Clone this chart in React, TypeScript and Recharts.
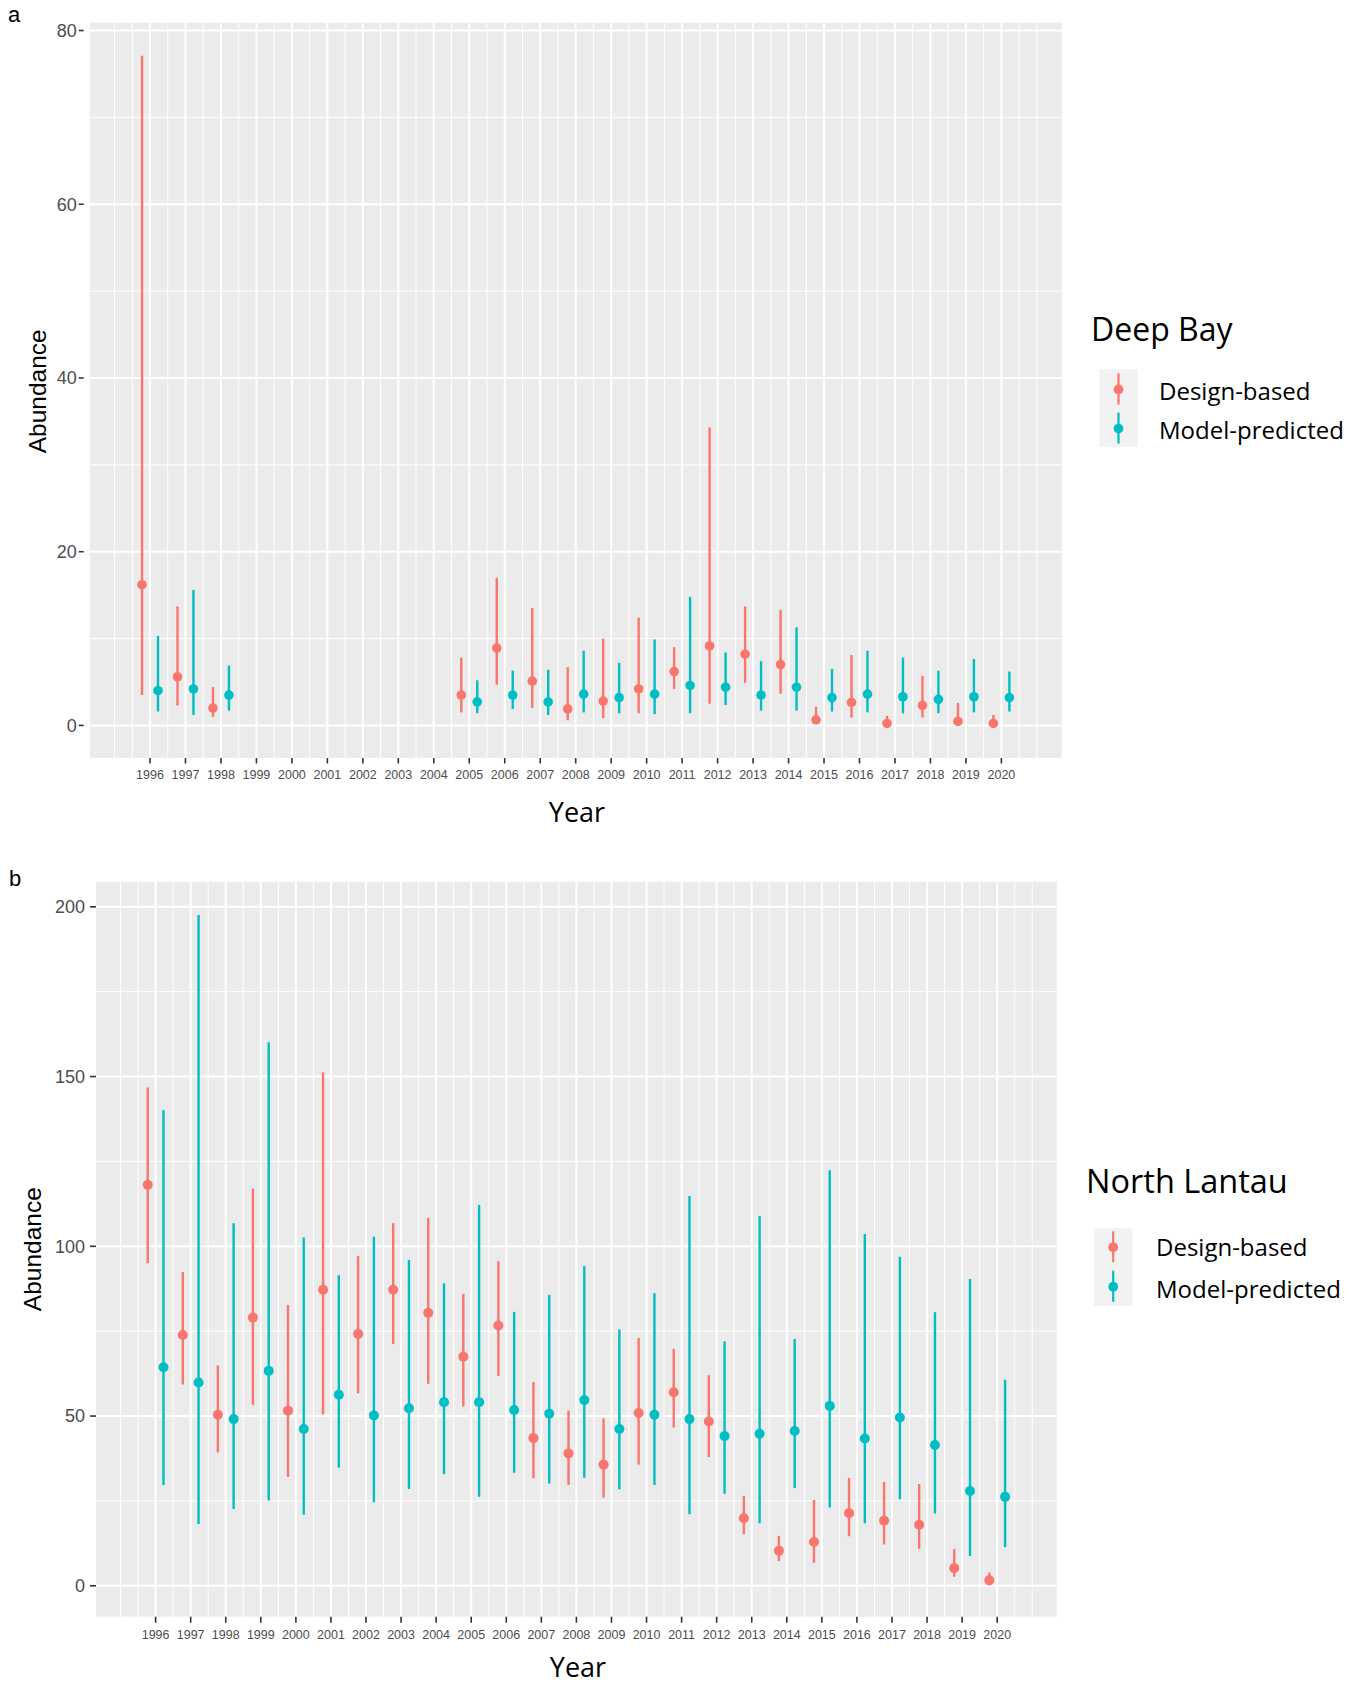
import React from 'react';
import { ScatterChart, Scatter, XAxis, YAxis, CartesianGrid, ErrorBar } from 'recharts';

// ---------- Data: panel a (Deep Bay) ----------
const yearsA = [1996, 1997, 1998, 2005, 2006, 2007, 2008, 2009, 2010, 2011, 2012, 2013, 2014, 2015, 2016, 2017, 2018, 2019, 2020];
const designA = [16.2, 5.6, 2.0, 3.5, 8.9, 5.1, 1.9, 2.8, 4.2, 6.2, 9.15, 8.2, 7.0, 0.65, 2.65, 0.23, 2.3, 0.46, 0.23];
const designALo = [3.5, 2.3, 1.0, 1.5, 4.7, 2.0, 0.6, 0.85, 1.4, 4.2, 2.5, 4.9, 3.65, 0.3, 0.9, 0.0, 0.9, 0.1, 0.0];
const designAHi = [77.1, 13.7, 4.4, 7.8, 17.0, 13.5, 6.7, 10.0, 12.4, 9.0, 34.3, 13.7, 13.3, 2.15, 8.1, 1.1, 5.7, 2.6, 1.2];
const modelA = [4.0, 4.2, 3.5, 2.7, 3.5, 2.7, 3.6, 3.2, 3.6, 4.6, 4.4, 3.5, 4.4, 3.2, 3.6, 3.3, 3.0, 3.3, 3.2];
const modelALo = [1.6, 1.2, 1.7, 1.4, 1.9, 1.2, 1.5, 1.4, 1.3, 1.4, 2.35, 1.7, 1.7, 1.6, 1.5, 1.4, 1.4, 1.5, 1.6];
const modelAHi = [10.3, 15.6, 6.9, 5.2, 6.3, 6.4, 8.6, 7.2, 9.9, 14.8, 8.4, 7.4, 11.3, 6.5, 8.6, 7.8, 6.3, 7.65, 6.2];

// ---------- Data: panel b (North Lantau) ----------
const yearsB = [1996, 1997, 1998, 1999, 2000, 2001, 2002, 2003, 2004, 2005, 2006, 2007, 2008, 2009, 2010, 2011, 2012, 2013, 2014, 2015, 2016, 2017, 2018, 2019, 2020];
const designB = [118.1, 73.9, 50.4, 79.0, 51.6, 87.2, 74.2, 87.2, 80.4, 67.5, 76.7, 43.5, 39.0, 35.7, 50.9, 57.0, 48.4, 19.9, 10.3, 12.9, 21.4, 19.2, 18.0, 5.2, 1.6];
const designBLo = [95.0, 59.3, 39.3, 53.3, 32.1, 50.5, 56.7, 71.2, 59.5, 52.8, 61.8, 31.7, 29.7, 26.0, 35.7, 46.6, 37.9, 15.2, 7.3, 6.8, 14.6, 12.2, 10.9, 2.7, 0.15];
const designBHi = [146.8, 92.4, 64.9, 117.0, 82.7, 151.3, 97.2, 106.8, 108.4, 86.0, 95.6, 60.0, 51.6, 49.3, 73.0, 69.8, 62.0, 26.5, 14.7, 25.3, 31.8, 30.6, 30.0, 10.8, 3.9];
const modelB = [64.4, 59.9, 49.1, 63.3, 46.2, 56.3, 50.2, 52.3, 54.1, 54.1, 51.8, 50.7, 54.7, 46.2, 50.4, 49.1, 44.1, 44.8, 45.6, 53.0, 43.4, 49.6, 41.5, 27.9, 26.2];
const modelBLo = [29.7, 18.2, 22.6, 25.1, 20.9, 34.8, 24.6, 28.5, 32.9, 26.2, 33.3, 30.1, 31.8, 28.4, 29.7, 21.1, 27.1, 18.4, 28.8, 23.1, 18.4, 25.5, 21.3, 8.8, 11.4];
const modelBHi = [140.1, 197.6, 106.8, 160.1, 102.6, 91.5, 102.8, 96.0, 89.1, 112.2, 80.7, 85.7, 94.2, 75.5, 86.2, 114.8, 72.0, 108.9, 72.7, 122.4, 103.6, 96.9, 80.6, 90.4, 60.7];

// ---------- Axis ticks ----------
const xTicks = [1996, 1997, 1998, 1999, 2000, 2001, 2002, 2003, 2004, 2005, 2006, 2007, 2008, 2009, 2010, 2011, 2012, 2013, 2014, 2015, 2016, 2017, 2018, 2019, 2020];
const yTicksA = [0, 20, 40, 60, 80];
const yMinorA = [10, 30, 50, 70];
const yTicksB = [0, 50, 100, 150, 200];
const yMinorB = [25, 75, 125, 175];

const xMinor: number[] = [];
for (let v = 1995; v <= 2021; v += 0.5) {
  if (!(Number.isInteger(v) && v >= 1996 && v <= 2020)) xMinor.push(v);
}

const DODGE = 0.225;
const RED = '#F8766D';
const TEAL = '#00BFC4';

function rows(years: number[], mid: number[], lo: number[], hi: number[], shift: number) {
  return years.map((yr, i) => ({ x: yr + shift, y: mid[i], err: [mid[i] - lo[i], hi[i] - mid[i]] }));
}

const dataA1 = rows(yearsA, designA, designALo, designAHi, -DODGE);
const dataA2 = rows(yearsA, modelA, modelALo, modelAHi, DODGE);
const dataB1 = rows(yearsB, designB, designBLo, designBHi, -DODGE);
const dataB2 = rows(yearsB, modelB, modelBLo, modelBHi, DODGE);

const TICK_FONT = 'Liberation Sans, Arial, Helvetica, sans-serif';
const TITLE_FONT = '"Open Sans", "Noto Sans", sans-serif';

const dot = (color: string, r: number) => (p: any) =>
  p.cx == null || p.cy == null ? <g /> : <circle cx={p.cx} cy={p.cy} r={r} fill={color} />;

type PanelProps = {
  height: number;
  margin: { top: number; right: number; bottom: number; left: number };
  yWidth: number;
  yDomain: [number, number];
  yTicks: number[];
  yMinor: number[];
  d1: any[];
  d2: any[];
  yTickSize: number;
  yTickMargin: number;
  yDash?: string;
  xTickSize: number;
  xTickMargin: number;
  r: number;
};

function Panel(props: PanelProps) {
  return (
    <ScatterChart width={1358} height={props.height} margin={props.margin}>
      <CartesianGrid
        fill="#EBEBEB"
        fillOpacity={1}
        stroke="#FFFFFF"
        strokeWidth={2}
        horizontalValues={props.yTicks}
        verticalValues={xTicks}
      />
      <CartesianGrid
        stroke="#FFFFFF"
        strokeWidth={1}
        horizontalValues={props.yMinor}
        verticalValues={xMinor}
      />
      <XAxis
        type="number"
        dataKey="x"
        domain={[1994.3, 2021.7]}
        allowDataOverflow
        ticks={xTicks}
        interval={0}
        height={40}
        axisLine={false}
        tickSize={props.xTickSize}
        tickMargin={props.xTickMargin}
        tickLine={{ stroke: '#333333', strokeWidth: 1.6 }}
        tick={{ fontSize: 12.5, fill: '#4D4D4D', fontFamily: TICK_FONT }}
      />
      <YAxis
        type="number"
        dataKey="y"
        domain={props.yDomain}
        allowDataOverflow
        ticks={props.yTicks}
        interval={0}
        width={props.yWidth}
        axisLine={false}
        tickSize={props.yTickSize}
        tickMargin={props.yTickMargin}
        tickLine={{ stroke: '#333333', strokeWidth: 1.6, strokeDasharray: props.yDash }}
        tick={{ fontSize: 18, fill: '#4D4D4D', fontFamily: TICK_FONT }}
      />
      <Scatter data={props.d1} isAnimationActive={false} shape={dot(RED, props.r)}>
        <ErrorBar dataKey="err" direction="y" width={0} stroke={RED} strokeWidth={2.4} isAnimationActive={false} />
      </Scatter>
      <Scatter data={props.d2} isAnimationActive={false} shape={dot(TEAL, props.r)}>
        <ErrorBar dataKey="err" direction="y" width={0} stroke={TEAL} strokeWidth={2.4} isAnimationActive={false} />
      </Scatter>
    </ScatterChart>
  );
}

function LegendBlock({ title, tx, ty, bx, by, p1, p2, lx, l1, l2, ts }: any) {
  const cx = bx + 19.2;
  return (
    <g>
      <text x={tx} y={ty} fontFamily={TITLE_FONT} fontSize={ts} fill="#000">{title}</text>
      <rect x={bx} y={by} width={38.5} height={77.5} fill="#F2F2F2" />
      <line x1={cx} x2={cx} y1={p1 - 16} y2={p1 + 15} stroke={RED} strokeWidth={2.2} />
      <circle cx={cx} cy={p1} r={4.9} fill={RED} />
      <line x1={cx} x2={cx} y1={p2 - 16} y2={p2 + 15} stroke={TEAL} strokeWidth={2.2} />
      <circle cx={cx} cy={p2} r={4.9} fill={TEAL} />
      <text x={lx} y={l1} fontFamily={TITLE_FONT} fontSize={24} fill="#000">Design-based</text>
      <text x={lx} y={l2} fontFamily={TITLE_FONT} fontSize={24} fill="#000">Model-predicted</text>
    </g>
  );
}

export default function App() {
  return (
    <div style={{ position: 'relative', width: 1358, height: 1685, background: '#fff', overflow: 'hidden' }}>
      <style>{`body{margin:0;}`}</style>
      <div style={{ position: 'absolute', left: 0, top: 0 }}>
        <Panel
          height={840}
          margin={{ top: 22.7, right: 296.3, bottom: 42, left: 0 }}
          yWidth={89.7}
          yDomain={[-3.75, 80.9]}
          yTicks={yTicksA}
          yMinor={yMinorA}
          d1={dataA1}
          d2={dataA2}
          yTickSize={11}
          yTickMargin={2}
          yDash="5 6"
          xTickSize={5.5}
          xTickMargin={6.5}
          r={4.8}
        />
      </div>
      <div style={{ position: 'absolute', left: 0, top: 840 }}>
        <Panel
          height={845}
          margin={{ top: 41.7, right: 301.2, bottom: 28.3, left: 0 }}
          yWidth={96}
          yDomain={[-9.1, 207.4]}
          yTicks={yTicksB}
          yMinor={yMinorB}
          d1={dataB1}
          d2={dataB2}
          yTickSize={6}
          yTickMargin={5}
          xTickSize={6}
          xTickMargin={7}
          r={5}
        />
      </div>
      <svg width={1358} height={1685} style={{ position: 'absolute', left: 0, top: 0, pointerEvents: 'none' }}>
        <text x={8} y={21.7} fontFamily={TICK_FONT} fontSize={22} fill="#000">a</text>
        <text x={9} y={886} fontFamily={TICK_FONT} fontSize={22} fill="#000">b</text>
        <text transform="translate(46,391.3) rotate(-90)" textAnchor="middle" fontFamily={TICK_FONT} fontSize={24.5} fill="#000">Abundance</text>
        <text transform="translate(40.5,1249.2) rotate(-90)" textAnchor="middle" fontFamily={TICK_FONT} fontSize={24.5} fill="#000">Abundance</text>
        <text x={577} y={821.5} textAnchor="middle" fontFamily={TITLE_FONT} fontSize={27} fill="#000">Year</text>
        <text x={578} y={1677} textAnchor="middle" fontFamily={TITLE_FONT} fontSize={27} fill="#000">Year</text>
        <LegendBlock title="Deep Bay" ts={32} tx={1091} ty={341} bx={1099.3} by={369.3} p1={389.5} p2={428.6} lx={1159} l1={399.5} l2={439} />
        <LegendBlock title="North Lantau" ts={32.5} tx={1086} ty={1193.3} bx={1094} by={1228.3} p1={1247.3} p2={1286.7} lx={1156} l1={1255.8} l2={1298} />
      </svg>
    </div>
  );
}
